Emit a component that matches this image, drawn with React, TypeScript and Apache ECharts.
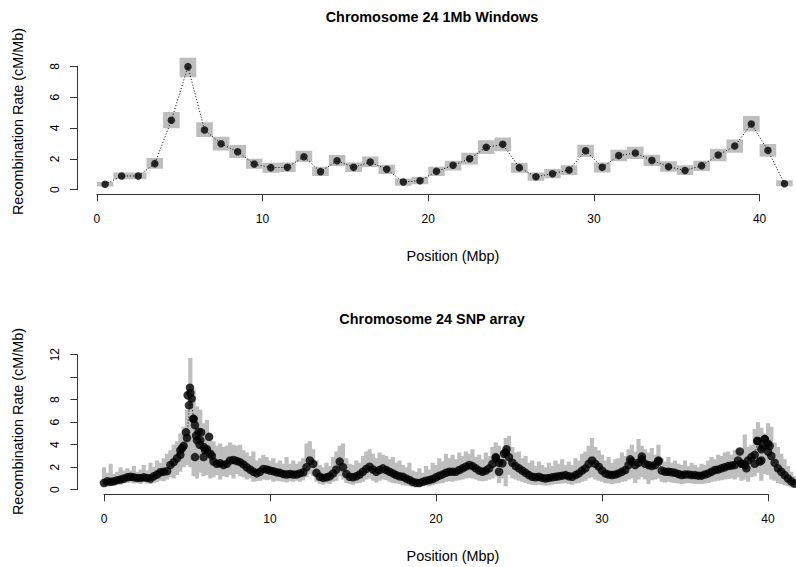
import React, { useEffect, useRef } from "react";
import * as echarts from "echarts";

// ---------- Top panel: 1Mb windows ----------
const winPos = [
  0.5, 1.5, 2.5, 3.5, 4.5, 5.5, 6.5, 7.5, 8.5, 9.5,
  10.5, 11.5, 12.5, 13.5, 14.5, 15.5, 16.5, 17.5, 18.5, 19.5,
  20.5, 21.5, 22.5, 23.5, 24.5, 25.5, 26.5, 27.5, 28.5, 29.5,
  30.5, 31.5, 32.5, 33.5, 34.5, 35.5, 36.5, 37.5, 38.5, 39.5,
  40.5, 41.5,
];
const winRate = [
  0.35, 0.89, 0.89, 1.69, 4.5, 7.98, 3.87, 2.98, 2.46, 1.66,
  1.43, 1.45, 2.14, 1.17, 1.88, 1.45, 1.79, 1.32, 0.5, 0.58,
  1.19, 1.58, 2.01, 2.75, 2.94, 1.43, 0.84, 1.04, 1.28, 2.53,
  1.45, 2.21, 2.38, 1.9, 1.49, 1.25, 1.56, 2.25, 2.83, 4.26,
  2.55, 0.39,
];
const winLow = [
  0.2, 0.67, 0.67, 1.36, 3.98, 7.29, 3.42, 2.55, 2.05, 1.36,
  1.1, 1.15, 1.79, 0.89, 1.54, 1.15, 1.47, 1.02, 0.26, 0.35,
  0.89, 1.25, 1.64, 2.31, 2.49, 1.1, 0.58, 0.74, 0.95, 2.12,
  1.12, 1.84, 1.99, 1.54, 1.17, 0.95, 1.21, 1.84, 2.4, 3.78,
  2.14, 0.22,
];
const winHigh = [
  0.5, 1.12, 1.12, 2.05, 5.04, 8.56, 4.37, 3.44, 2.9, 2.01,
  1.75, 1.77, 2.53, 1.49, 2.25, 1.77, 2.16, 1.62, 0.73, 0.84,
  1.49, 1.88, 2.4, 3.2, 3.39, 1.75, 1.12, 1.34, 1.58, 2.92,
  1.77, 2.59, 2.79, 2.27, 1.84, 1.58, 1.88, 2.66, 3.26, 4.78,
  2.96, 0.61,
];
const WIN_HALF = 0.5;

// ---------- Bottom panel: SNP array ----------
const snpPos = [
  0, 0.2, 0.4, 0.6, 0.8, 1, 1.2, 1.4, 1.6, 1.8,
  2, 2.2, 2.4, 2.6, 2.8, 3, 3.2, 3.4, 3.6, 3.8,
  4, 4.2, 4.4, 4.6, 4.8, 5, 5.2, 5.4, 5.6, 5.8,
  6, 6.2, 6.4, 6.6, 6.8, 7, 7.2, 7.4, 7.6, 7.8,
  8, 8.2, 8.4, 8.6, 8.8, 9, 9.2, 9.4, 9.6, 9.8,
  10, 10.2, 10.4, 10.6, 10.8, 11, 11.2, 11.4, 11.6, 11.8,
  12, 12.2, 12.4, 12.6, 12.8, 13, 13.2, 13.4, 13.6, 13.8,
  14, 14.2, 14.4, 14.6, 14.8, 15, 15.2, 15.4, 15.6, 15.8,
  16, 16.2, 16.4, 16.6, 16.8, 17, 17.2, 17.4, 17.6, 17.8,
  18, 18.2, 18.4, 18.6, 18.8, 19, 19.2, 19.4, 19.6, 19.8,
  20, 20.2, 20.4, 20.6, 20.8, 21, 21.2, 21.4, 21.6, 21.8,
  22, 22.2, 22.4, 22.6, 22.8, 23, 23.2, 23.4, 23.6, 23.8,
  24, 24.2, 24.4, 24.6, 24.8, 25, 25.2, 25.4, 25.6, 25.8,
  26, 26.2, 26.4, 26.6, 26.8, 27, 27.2, 27.4, 27.6, 27.8,
  28, 28.2, 28.4, 28.6, 28.8, 29, 29.2, 29.4, 29.6, 29.8,
  30, 30.2, 30.4, 30.6, 30.8, 31, 31.2, 31.4, 31.6, 31.8,
  32, 32.2, 32.4, 32.6, 32.8, 33, 33.2, 33.4, 33.6, 33.8,
  34, 34.2, 34.4, 34.6, 34.8, 35, 35.2, 35.4, 35.6, 35.8,
  36, 36.2, 36.4, 36.6, 36.8, 37, 37.2, 37.4, 37.6, 37.8,
  38, 38.2, 38.4, 38.6, 38.8, 39, 39.2, 39.4, 39.6, 39.8,
  40, 40.2, 40.4, 40.6, 40.8, 41, 41.2, 41.4, 41.6, 41.8,
];
const snpRate = [
  0.6, 0.75, 0.7, 0.75, 0.85, 0.9, 1.0, 1.1, 1.15, 1.1,
  1.05, 1.05, 1.1, 1.05, 1.0, 1.2, 1.35, 1.55, 1.6, 1.65,
  2.2, 2.45, 2.8, 3.5, 3.9, 4.6, 8.6, 6.3, 4.4, 4.4,
  3.8, 3.6, 3.2, 2.5, 2.3, 2.35, 2.2, 2.3, 2.6, 2.65,
  2.55, 2.45, 2.25, 2.0, 1.8, 1.6, 1.45, 1.6, 1.85, 1.8,
  1.7, 1.65, 1.55, 1.5, 1.4, 1.35, 1.4, 1.35, 1.35, 1.45,
  1.55, 2.0, 2.6, 2.3, 1.5, 1.15, 1.05, 1.1, 1.2, 1.45,
  1.8, 2.5, 2.0, 1.4, 1.15, 1.1, 1.2, 1.35, 1.6, 1.85,
  2.05, 1.8, 1.6, 1.75, 1.9, 1.75, 1.6, 1.45, 1.3, 1.2,
  1.15, 1.0, 0.86, 0.7, 0.62, 0.6, 0.7, 0.8, 0.86, 0.95,
  1.1, 1.25, 1.36, 1.5, 1.6, 1.6, 1.6, 1.75, 1.9, 2.05,
  2.2, 2.1, 1.9, 1.7, 1.6, 1.7, 1.9, 2.3, 2.8, 2.4,
  2.35, 3.3, 2.9, 2.4, 2.1, 1.9, 1.7, 1.5, 1.3, 1.15,
  1.1, 1.15, 1.05, 1.0, 1.05, 1.1, 1.15, 1.2, 1.25, 1.3,
  1.2, 1.15, 1.3, 1.45, 1.7, 1.9, 2.3, 2.6, 2.3, 2.05,
  1.7, 1.45, 1.35, 1.3, 1.35, 1.45, 1.6, 1.75, 2.2, 2.5,
  2.2, 2.4, 2.7, 2.3, 2.2, 2.1, 2.2, 2.5, 1.7, 1.6,
  1.6, 1.55, 1.5, 1.4, 1.3, 1.35, 1.36, 1.3, 1.3, 1.25,
  1.25, 1.35, 1.45, 1.6, 1.75, 1.8, 1.9, 2.0, 2.1, 2.15,
  2.2, 2.6, 2.3, 2.2, 2.6, 2.9, 3.1, 4.3, 3.6, 4.5,
  4.1, 3.0, 2.4, 1.9, 1.6, 1.3, 1.0, 0.75, 0.55, 0.4,
];
const snpLow = [
  0.3, 0.25, 0.35, 0.4, 0.5, 0.45, 0.55, 0.6, 0.65, 0.55,
  0.6, 0.5, 0.65, 0.55, 0.5, 0.6, 0.7, 0.8, 0.75, 0.9,
  1.1, 1.0, 1.3, 1.6, 2.0, 2.2, 2.0, 1.2, 1.0, 1.5,
  1.2, 1.3, 1.0, 1.1, 1.3, 0.9, 1.2, 1.1, 1.3, 1.0,
  1.4, 1.2, 1.1, 0.9, 1.0, 0.7, 0.75, 0.8, 0.9, 0.85,
  0.9, 0.7, 0.8, 0.75, 0.7, 0.65, 0.75, 0.7, 0.8, 0.7,
  0.85, 1.1, 1.4, 1.2, 0.7, 0.5, 0.45, 0.55, 0.5, 0.7,
  0.8, 1.2, 0.9, 0.6, 0.5, 0.45, 0.55, 0.6, 0.7, 0.9,
  1.0, 0.8, 0.65, 0.8, 0.9, 0.85, 0.7, 0.6, 0.55, 0.5,
  0.4, 0.35, 0.3, 0.25, 0.2, 0.25, 0.3, 0.35, 0.3, 0.4,
  0.5, 0.55, 0.6, 0.7, 0.75, 0.7, 0.8, 0.85, 0.9, 1.0,
  1.05, 1.0, 0.9, 0.8, 0.75, 0.8, 0.9, 1.0, 1.2, 0.6,
  1.0, 0.3, 1.3, 1.0, 0.9, 0.8, 0.7, 0.6, 0.5, 0.45,
  0.4, 0.45, 0.4, 0.35, 0.4, 0.45, 0.5, 0.5, 0.55, 0.6,
  0.5, 0.45, 0.55, 0.6, 0.7, 0.8, 1.0, 1.1, 0.9, 0.8,
  0.7, 0.6, 0.55, 0.5, 0.55, 0.6, 0.7, 0.75, 0.9, 1.0,
  0.6, 0.9, 1.1, 0.9, 0.5, 0.85, 0.9, 1.0, 0.7, 0.65,
  0.7, 0.65, 0.6, 0.55, 0.5, 0.55, 0.6, 0.55, 0.5, 0.5,
  0.5, 0.55, 0.6, 0.7, 0.75, 0.8, 0.85, 0.9, 0.95, 1.0,
  0.9, 1.1, 0.8, 0.9, 0.7, 1.1, 1.2, 1.5, 0.8, 1.4,
  1.3, 0.9, 0.8, 0.6, 0.5, 0.4, 0.3, 0.2, 0.15, 0.1,
];
const snpHigh = [
  2.0, 1.5, 2.3, 1.4, 1.6, 2.0, 1.7, 1.9, 1.7, 2.1,
  1.6, 1.8, 2.2, 1.7, 2.4, 2.0, 2.6, 2.4, 2.8, 3.2,
  3.5, 4.0, 4.3, 5.0, 5.6, 7.1, 11.7, 8.9, 7.4, 7.1,
  5.9, 6.2, 5.0, 4.3, 3.9, 4.1, 3.8, 3.9, 4.2, 4.0,
  3.9, 4.0, 3.5, 3.3, 3.0, 3.4, 2.6, 2.8, 3.1, 2.9,
  2.6, 2.8, 2.4, 2.6, 2.3, 2.9, 2.3, 2.6, 2.3, 2.5,
  2.8, 4.1, 4.3, 3.6, 2.6, 2.2, 2.0, 2.4, 2.1, 2.9,
  3.4, 3.9, 4.1, 2.8, 2.3, 2.2, 2.6, 2.4, 3.0, 3.4,
  3.6, 3.2, 2.8, 3.3, 3.1, 3.0, 2.7, 2.9, 2.4, 2.6,
  2.2, 2.0, 2.4, 1.7, 1.6, 1.9, 1.5, 2.1, 1.8, 2.4,
  2.2, 2.8, 2.5, 3.2, 2.8, 3.1, 2.7, 3.3, 3.0, 3.4,
  3.2, 3.6, 2.9, 3.1, 2.7, 3.3, 3.0, 3.8, 4.2, 3.9,
  3.5, 4.6, 4.8, 3.8, 3.3, 3.4, 2.8, 3.0, 2.4, 2.6,
  2.1, 2.5, 2.2, 2.0, 2.4, 2.1, 2.6, 2.3, 2.7, 2.2,
  2.5, 2.2, 2.8, 2.6, 3.2, 3.4, 3.9, 4.6, 3.8, 3.5,
  3.1, 2.6, 2.9, 2.4, 2.7, 2.8, 3.3, 3.0, 3.6, 4.0,
  3.4, 4.5, 3.9, 3.6, 3.3, 3.7, 3.1, 4.0, 2.8, 2.5,
  2.9, 2.4, 2.6, 2.3, 2.2, 2.6, 2.1, 2.4, 2.2, 2.0,
  2.3, 2.2, 2.6, 2.9, 2.7, 3.1, 3.0, 3.3, 3.4, 3.1,
  3.5, 3.6, 3.3, 4.9, 3.8, 4.0, 5.4, 6.0, 5.5, 5.0,
  5.9, 5.6, 4.2, 3.8, 3.2, 2.7, 2.1, 1.6, 1.2, 0.9,
];
// scattered SNP estimates that stand off the main trace
const snpExtraPos = [
  4.6, 4.7, 4.94, 5.04, 5.12, 5.18, 5.28, 5.38, 5.48, 5.48,
  5.55, 5.7, 5.76, 5.85, 6.0, 6.1, 6.33, 6.5, 23.6, 23.8,
  24.1, 24.25, 31.7, 32.4, 33.4, 38.3, 38.45, 38.7, 39.2, 39.35,
  39.5, 39.6, 39.7, 39.8, 40.0, 40.1,
];
const snpExtraRate = [
  3.1, 3.7, 5.1, 8.4, 7.5, 9.07, 8.1, 6.3, 5.75, 2.9,
  4.8, 5.15, 4.0, 5.1, 2.9, 3.5, 4.7, 3.0, 2.9, 1.6,
  3.2, 3.6, 2.7, 2.95, 2.6, 3.4, 2.3, 1.9, 2.3, 4.35,
  2.5, 2.6, 3.8, 4.5, 3.4, 3.9,
];
const SNP_HALF = 0.125;

const xTicks = [0, 10, 20, 30, 40];
const yTicksTop = [0, 2, 4, 6, 8];
const yTicksBottom = [0, 2, 4, 6, 8, 10, 12];

const FONT = "'Liberation Sans', Arial, Helvetica, sans-serif";
const GRAY = "#bebebe";
const AXIS = "#333";

const rectItem = (params: any, api: any) => {
  const a = api.coord([api.value(0), api.value(3)]);
  const b = api.coord([api.value(1), api.value(2)]);
  return {
    type: "rect",
    shape: { x: a[0], y: a[1], width: b[0] - a[0], height: b[1] - a[1] },
    style: { fill: GRAY },
  };
};

const axisStyle = {
  axisLine: { show: true, lineStyle: { color: AXIS, width: 1 } },
  axisTick: { show: true, length: 7, lineStyle: { color: AXIS, width: 1 } },
  splitLine: { show: false },
};

export default function App() {
  const ref = useRef<HTMLDivElement>(null);
  useEffect(() => {
    if (!ref.current) return;
    const chart = echarts.init(ref.current, undefined, { renderer: "svg" });

    const winRects = winPos.map((p, i) => [p - WIN_HALF, p + WIN_HALF, winLow[i], winHigh[i]]);
    const winPts = winPos.map((p, i) => [p, winRate[i]]);
    const snpRects = snpPos.map((p, i) => [p - SNP_HALF, p + SNP_HALF, snpLow[i], snpHigh[i]]);
    const snpPts = snpPos.map((p, i) => [p, snpRate[i]]);
    const snpExtra = snpExtraPos.map((p, i) => [p, snpExtraRate[i]]);

    const hiddenAxis = { show: false };

    chart.setOption({
      animation: false,
      grid: [
        { left: 77, top: 50.9, width: 719, height: 143.4 },
        { left: 77, top: 66.3, width: 10, height: 123.4 },
        { left: 96.8, top: 190, width: 662.8, height: 4.3 },
        { left: 77.3, top: 349.1, width: 718.7, height: 145.2 },
        { left: 77.3, top: 354.7, width: 10, height: 135 },
        { left: 104, top: 490, width: 664, height: 4.3 },
      ],
      xAxis: [
        { gridIndex: 0, type: "value", min: -1.195, max: 42.196, ...hiddenAxis },
        { gridIndex: 1, type: "value", min: 0, max: 1, ...hiddenAxis },
        {
          gridIndex: 2, type: "value", min: xTicks[0], max: xTicks[xTicks.length - 1], interval: 10,
          position: "bottom", ...axisStyle,
          axisLabel: { margin: 19, fontSize: 12, color: "#000", fontFamily: FONT },
        },
        { gridIndex: 3, type: "value", min: -1.608, max: 41.687, ...hiddenAxis },
        { gridIndex: 4, type: "value", min: 0, max: 1, ...hiddenAxis },
        {
          gridIndex: 5, type: "value", min: xTicks[0], max: xTicks[xTicks.length - 1], interval: 10,
          position: "bottom", ...axisStyle,
          axisLabel: { margin: 19, fontSize: 12, color: "#000", fontFamily: FONT },
        },
      ],
      yAxis: [
        { gridIndex: 0, type: "value", min: -0.298, max: 9.0, ...hiddenAxis },
        {
          gridIndex: 1, type: "value", min: yTicksTop[0], max: yTicksTop[yTicksTop.length - 1], interval: 2,
          position: "left", ...axisStyle,
          axisLabel: { margin: 16, rotate: 90, fontSize: 12, color: "#000", fontFamily: FONT },
        },
        { gridIndex: 2, type: "value", min: 0, max: 1, ...hiddenAxis },
        { gridIndex: 3, type: "value", min: -0.409, max: 12.498, ...hiddenAxis },
        {
          gridIndex: 4, type: "value", min: yTicksBottom[0], max: yTicksBottom[yTicksBottom.length - 1], interval: 2,
          position: "left", ...axisStyle,
          axisLabel: {
            margin: 16, rotate: 90, fontSize: 12, color: "#000", fontFamily: FONT,
            formatter: (v: number) => (v === 10 ? "" : String(v)),
          },
        },
        { gridIndex: 5, type: "value", min: 0, max: 1, ...hiddenAxis },
      ],
      series: [
        {
          type: "custom", xAxisIndex: 0, yAxisIndex: 0, renderItem: rectItem,
          data: winRects, encode: { x: [0, 1], y: [2, 3] }, clip: true, silent: true,
        },
        {
          type: "line", xAxisIndex: 0, yAxisIndex: 0, data: winPts, showSymbol: false,
          lineStyle: { color: "#000", width: 1, type: [1, 2] }, silent: true,
        },
        {
          type: "scatter", xAxisIndex: 0, yAxisIndex: 0, data: winPts, symbolSize: 7.5,
          itemStyle: { color: "#000" }, silent: true,
        },
        {
          type: "custom", xAxisIndex: 3, yAxisIndex: 3, renderItem: rectItem,
          data: snpRects, encode: { x: [0, 1], y: [2, 3] }, clip: true, silent: true,
        },
        {
          type: "line", xAxisIndex: 3, yAxisIndex: 3, data: snpPts, showSymbol: false,
          lineStyle: { color: "#000", width: 1, type: [1, 2] }, silent: true,
        },
        {
          type: "scatter", xAxisIndex: 3, yAxisIndex: 3, data: snpPts, symbolSize: 8.5,
          itemStyle: { color: "#000" }, silent: true,
        },
        {
          type: "scatter", xAxisIndex: 3, yAxisIndex: 3, data: snpExtra, symbolSize: 8.5,
          itemStyle: { color: "#000" }, silent: true,
        },
      ],
      graphic: [
        {
          type: "text", x: 432, y: 17,
          style: { text: "Chromosome 24 1Mb Windows", font: `bold 14.4px ${FONT}`, fill: "#000", textAlign: "center", textVerticalAlign: "middle" },
        },
        {
          type: "text", x: 432, y: 319,
          style: { text: "Chromosome 24 SNP array", font: `bold 14.4px ${FONT}`, fill: "#000", textAlign: "center", textVerticalAlign: "middle" },
        },
        {
          type: "text", x: 453, y: 255.5,
          style: { text: "Position (Mbp)", font: `14.4px ${FONT}`, fill: "#000", textAlign: "center", textVerticalAlign: "middle" },
        },
        {
          type: "text", x: 453, y: 555.5,
          style: { text: "Position (Mbp)", font: `14.4px ${FONT}`, fill: "#000", textAlign: "center", textVerticalAlign: "middle" },
        },
        {
          type: "text", x: 18, y: 121.5, rotation: Math.PI / 2,
          style: { text: "Recombination Rate (cM/Mb)", font: `14.4px ${FONT}`, fill: "#000", textAlign: "center", textVerticalAlign: "middle" },
        },
        {
          type: "text", x: 18, y: 421.5, rotation: Math.PI / 2,
          style: { text: "Recombination Rate (cM/Mb)", font: `14.4px ${FONT}`, fill: "#000", textAlign: "center", textVerticalAlign: "middle" },
        },
      ],
    });
    return () => chart.dispose();
  }, []);
  return (
    <div
      ref={ref}
      style={{ position: "absolute", left: 0, top: 0, width: 796, height: 567, background: "#fff" }}
    />
  );
}
